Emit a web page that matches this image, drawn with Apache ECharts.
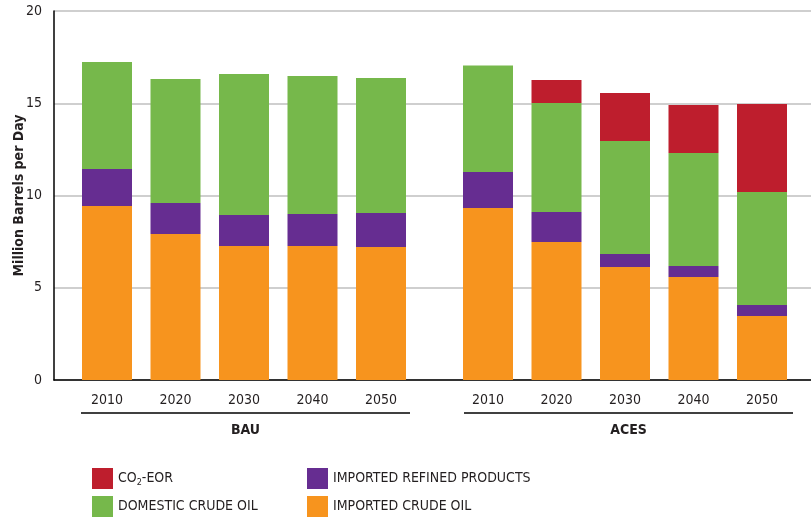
<!DOCTYPE html>
<html>
<head>
<meta charset="utf-8">
<title>Oil supply BAU vs ACES</title>
<script src="https://cdn.jsdelivr.net/npm/echarts@6/dist/echarts.min.js"></script>
<style>
  html, body { margin: 0; padding: 0; background: #fff; }
  #chart { width: 811px; height: 517px; }
</style>
</head>
<body>
<div id="chart"></div>
<script>
// 数据
const years = ["2010", "2020", "2030", "2040", "2050"];
const groups = ["BAU", "ACES"];
const yTicks = [0, 5, 10, 15, 20];

const seriesNames = ["IMPORTED CRUDE OIL", "IMPORTED REFINED PRODUCTS", "DOMESTIC CRUDE OIL", "CO2-EOR"];
const seriesColors = ["#f7941e", "#662d91", "#76b84b", "#be1e2d"];

// BAU
const bauImportedCrude = [9.43, 7.91, 7.26, 7.26, 7.21];
const bauImportedRefined = [2.0, 1.68, 1.68, 1.74, 1.84];
const bauDomesticCrude = [5.8, 6.72, 7.65, 7.48, 7.32];
const bauCo2Eor = [0, 0, 0, 0, 0];

// ACES
const acesImportedCrude = [9.32, 7.48, 6.12, 5.58, 3.47];
const acesImportedRefined = [1.95, 1.63, 0.71, 0.6, 0.6];
const acesDomesticCrude = [5.77, 5.9, 6.12, 6.12, 6.12];
const acesCo2Eor = [0, 1.25, 2.61, 2.61, 4.77];

const FONT = "'DejaVu Sans Condensed', 'Liberation Sans Narrow', sans-serif";
const TEXT = "#231f20";

const chart = echarts.init(document.getElementById("chart"), null, { renderer: "canvas" });

const bauData = [bauImportedCrude, bauImportedRefined, bauDomesticCrude, bauCo2Eor];
const acesData = [acesImportedCrude, acesImportedRefined, acesDomesticCrude, acesCo2Eor];

function makeSeries(data, axisIndex, stack) {
  return seriesNames.map((name, i) => ({
    name,
    type: "bar",
    stack,
    xAxisIndex: axisIndex,
    yAxisIndex: axisIndex,
    barWidth: 50,
    itemStyle: { color: seriesColors[i] },
    data: data[i],
  }));
}

const hiddenY = (gridIndex) => ({
  type: "value",
  gridIndex,
  min: yTicks[0],
  max: yTicks[yTicks.length - 1],
  show: false,
});

const yearAxis = (gridIndex) => ({
  type: "category",
  gridIndex,
  data: years,
  axisLine: { show: false },
  axisTick: { show: false },
  axisLabel: { color: TEXT, fontFamily: FONT, fontSize: 14, margin: 13 },
});

const legendCommon = {
  orient: "vertical",
  top: 468,
  height: 60,
  padding: 0,
  itemWidth: 21,
  itemHeight: 21,
  itemGap: 7,
  icon: "rect",
  selectedMode: false,
  formatter: (name) => (name === "CO2-EOR" ? "CO{sub|2}-EOR" : name),
  textStyle: {
    color: TEXT,
    fontFamily: FONT,
    fontSize: 14,
    rich: {
      sub: { fontSize: 9, fontFamily: FONT, color: TEXT, verticalAlign: "bottom", padding: [8, 0, 0, 0] },
    },
  },
};

const options = {
  animation: false,
  grid: [
    { left: 54, right: 0, top: 11, bottom: 137, outerBoundsMode: "none" }, // 背景坐标轴
    { left: 72.75, width: 342.5, top: 11, bottom: 137, outerBoundsMode: "none" },
    { left: 453.75, width: 342.5, top: 11, bottom: 137, outerBoundsMode: "none" },
  ],
  xAxis: [
    {
      type: "value",
      gridIndex: 0,
      min: 0,
      max: 1,
      axisLine: { show: true, lineStyle: { color: "#000", width: 1.5 } },
      axisTick: { show: false },
      axisLabel: { show: false },
      splitLine: { show: false },
    },
    yearAxis(1),
    yearAxis(2),
  ],
  yAxis: [
    {
      type: "value",
      gridIndex: 0,
      min: yTicks[0],
      max: yTicks[yTicks.length - 1],
      interval: 5,
      name: "Million Barrels per Day",
      nameLocation: "middle",
      nameGap: 28,
      nameMoveOverlap: false,
      nameTextStyle: { color: TEXT, fontFamily: FONT, fontSize: 14, fontWeight: "bold" },
      axisLine: { show: true, lineStyle: { color: "#000", width: 1.5 } },
      axisTick: { show: false },
      axisLabel: { color: TEXT, fontFamily: FONT, fontSize: 14, margin: 12 },
      splitLine: { show: true, lineStyle: { color: "#cfcfcf", width: 2 } },
    },
    hiddenY(1),
    hiddenY(2),
  ],
  legend: [
    Object.assign({}, legendCommon, { left: 92, data: ["CO2-EOR", "DOMESTIC CRUDE OIL"] }),
    Object.assign({}, legendCommon, { left: 307, data: ["IMPORTED REFINED PRODUCTS", "IMPORTED CRUDE OIL"] }),
  ],
  graphic: [
    // 分组下划线和标签
    { type: "line", shape: { x1: 81, y1: 413, x2: 410, y2: 413 }, style: { stroke: "#000", lineWidth: 1.5 } },
    { type: "line", shape: { x1: 464, y1: 413, x2: 793, y2: 413 }, style: { stroke: "#000", lineWidth: 1.5 } },
    {
      type: "text", x: 245.5, y: 430,
      style: { text: groups[0], fill: TEXT, font: "bold 14px " + FONT, textAlign: "center", textVerticalAlign: "middle" },
    },
    {
      type: "text", x: 628.5, y: 430,
      style: { text: groups[1], fill: TEXT, font: "bold 14px " + FONT, textAlign: "center", textVerticalAlign: "middle" },
    },
  ],
  series: [...makeSeries(bauData, 1, "bau"), ...makeSeries(acesData, 2, "aces")],
};

chart.setOption(options);

window.addEventListener("resize", () => {
  chart.resize();
});
</script>
</body>
</html>
